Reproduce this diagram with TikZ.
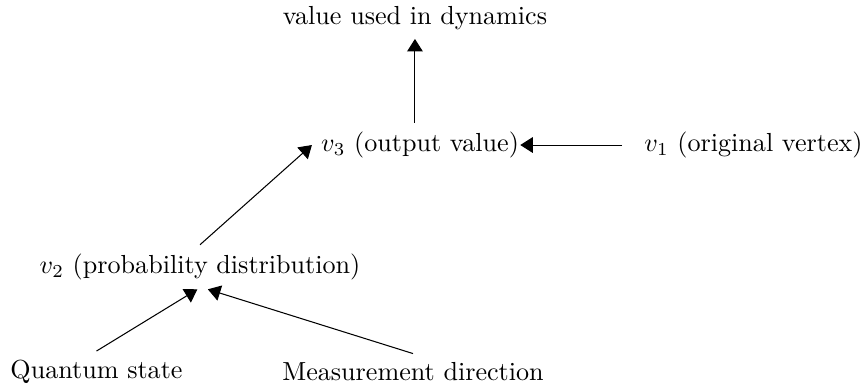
\documentclass[tikz,border=0pt]{standalone}
\usetikzlibrary{arrows.meta}
\begin{document}
\begin{tikzpicture}[>={Triangle[length=4.8pt,width=6pt]}]
  \useasboundingbox (0,0) rectangle (11.575,5.249);
  \node (dyn) at (5.585,5.007) {value used in dynamics};
  \node (v3) at (5.653,3.297) {$v_3$ (output value)};
  \node (v1) at (10.141,3.297) {$v_1$ (original vertex)};
  \node (v2) at (2.692,1.655) {$v_2$ (probability distribution)};
  \node (qs) at (1.299,0.242) {Quantum state};
  \node (md) at (5.559,0.242) {Measurement direction};
  \draw[->] (dyn.south |- v3.north) -- (dyn.south);
  \draw[->] ([xshift=-5pt]v1.west) -- ([xshift=-3pt]v3.east);
  \draw[->] (v2.north) -- (v3.west);
  \draw[->] (qs.north) -- ([xshift=-1pt]v2.south);
  \draw[->] (md.north) -- ([xshift=3pt]v2.south);
\end{tikzpicture}
\end{document}
